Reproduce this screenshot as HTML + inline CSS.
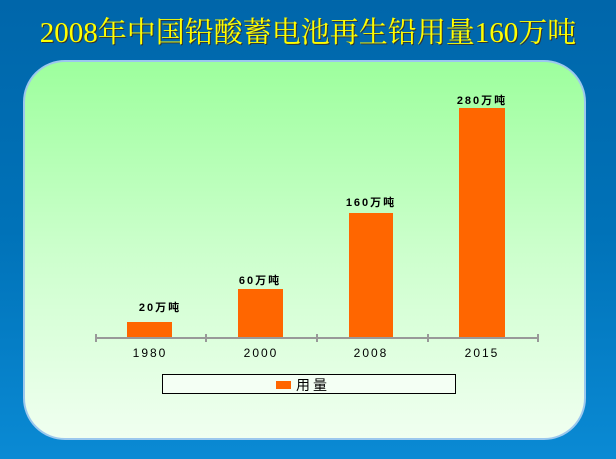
<!DOCTYPE html>
<html><head><meta charset="utf-8"><style>
body{margin:0;width:616px;height:459px;overflow:hidden;background:linear-gradient(#0066aa 0%,#0072b8 50%,#0a8ad4 100%);font-family:"Liberation Sans","Noto Sans CJK SC",sans-serif;position:relative}
.t{position:absolute;left:0;width:616px;top:10px;text-align:center;color:#ffff00;font-family:"Liberation Serif","Noto Serif CJK SC",serif;font-size:29px;text-shadow:1px 1px 0 #333;white-space:nowrap}
.p{position:absolute;left:23px;top:60px;width:563px;height:380px;border-radius:42px;background:linear-gradient(#9dff9d 0%,#ccffcc 50%,#f0fff0 100%);border:2px solid #9cc8ee;box-sizing:border-box}
.b{position:absolute;background:#ff6600}
.l{position:absolute;font-size:11px;font-weight:bold;color:#000;text-align:center;width:80px;letter-spacing:2px}
.y{position:absolute;font-size:12px;color:#000;text-align:center;width:60px;top:346px;letter-spacing:2px}
.ax{position:absolute;left:95px;top:337px;width:443px;height:2px;background:#999}
.tk{position:absolute;top:334px;width:2px;height:8px;background:#999}
.lg{position:absolute;left:162px;top:374px;width:294px;height:20px;border:1px solid #000;box-sizing:border-box;background:#f4fff4}
</style></head><body>
<div class="t">2008年中国铅酸蓄电池再生铅用量160万吨</div>
<div class="p"></div>
<div class="b" style="left:127px;top:322px;width:45px;height:16px"></div>
<div class="b" style="left:238px;top:289px;width:45px;height:49px"></div>
<div class="b" style="left:349px;top:213px;width:44px;height:125px"></div>
<div class="b" style="left:459px;top:108px;width:46px;height:230px"></div>
<div class="ax"></div>
<div class="tk" style="left:95px"></div><div class="tk" style="left:205px"></div><div class="tk" style="left:316px"></div><div class="tk" style="left:427px"></div><div class="tk" style="left:537px"></div>
<div class="l" style="left:120px;top:299px">20万吨</div>
<div class="l" style="left:220px;top:272px">60万吨</div>
<div class="l" style="left:331px;top:194px">160万吨</div>
<div class="l" style="left:442px;top:92px">280万吨</div>
<div class="y" style="left:120px">1980</div>
<div class="y" style="left:231px">2000</div>
<div class="y" style="left:341px">2008</div>
<div class="y" style="left:452px">2015</div>
<div class="lg"><div style="position:absolute;left:113px;top:6px;width:15px;height:8px;background:#ff6600"></div><div style="position:absolute;left:133px;top:0px;font-size:14px;letter-spacing:3px">用量</div></div>
</body></html>
